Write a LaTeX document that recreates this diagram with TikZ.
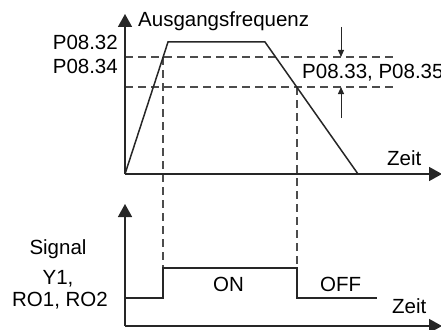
\documentclass[tikz,border=0pt]{standalone}
\usepackage{fontspec}
\setmainfont{Liberation Sans}
\usetikzlibrary{arrows.meta}
\begin{document}
\begin{tikzpicture}[x=1pt,y=-1pt,
  lbl/.style={inner sep=0pt,font=\fontsize{20.5}{24}\selectfont},
  axis/.style={line width=1.5pt,draw=black!85,-{Triangle[width=14pt,length=13pt]}},
  curve/.style={line width=1.5pt,draw=black!85},
  sig/.style={line width=2pt,draw=black!85},
  guide/.style={line width=1.3pt,draw=black!70,dash pattern=on 8pt off 5pt},
  small/.style={line width=1pt,draw=black!85,-{Triangle[width=6pt,length=7pt]}}]
\useasboundingbox (0,0) rectangle (441,329);
% coordinates
\coordinate (O1) at (125,174);
\coordinate (Y1t) at (125,14);
\coordinate (X1e) at (442,174);
\coordinate (A) at (168,42);
\coordinate (B) at (265,42);
\coordinate (C) at (358,174);
\coordinate (H1s) at (125,57);
\coordinate (H1e) at (393,57);
\coordinate (H2s) at (125,87);
\coordinate (H2e) at (393,87);
\coordinate (P1) at (163,57);
\coordinate (P2) at (297,87);
\coordinate (O2) at (125,326);
\coordinate (Y2t) at (125,204);
\coordinate (X2e) at (442,326);
\coordinate (S0) at (125,298);
\coordinate (S1) at (163,298);
\coordinate (S2) at (163,268);
\coordinate (S3) at (297,268);
\coordinate (S4) at (297,298);
\coordinate (S5) at (377,298);
\coordinate (Ta) at (341,27);
\coordinate (Tb) at (341,57);
\coordinate (Ua) at (341,118);
\coordinate (Ub) at (341,87);
% guides
\draw[guide] (H1s) -- (H1e);
\draw[guide] (H2s) -- (H2e);
\draw[guide] (P1) -- (S2);
\draw[guide] (P2) -- (S3);
% axes
\draw[axis] (O1) -- (Y1t);
\draw[axis] (O1) -- (X1e);
\draw[axis] (O2) -- (Y2t);
\draw[axis] (O2) -- (X2e);
% frequency curve
\draw[curve] (O1) -- (A) -- (B) -- (C);
% signal
\draw[sig] (S0) -- (S1) -- (S2) -- (S3) -- (S4) -- (S5);
% small arrows
\draw[small] (Ta) -- (Tb);
\draw[small] (Ua) -- (Ub);
% labels
\node[lbl,anchor=base west] (ausg) at (138,27) {Ausgangsfrequenz};
\node[lbl,anchor=base east] (p32) at (118,49) {P08.32};
\node[lbl,anchor=base east] (p34) at (118,74) {P08.34};
\node[lbl,anchor=base west] (p33) at (302,78) {P08.33, P08.35};
\node[lbl,anchor=base west] (zeit1) at (387,165) {Zeit};
\node[lbl,anchor=base west] (zeit2) at (392,313) {Zeit};
\node[lbl,anchor=base west] (on) at (213,291) {ON};
\node[lbl,anchor=base west] (off) at (320,291) {OFF};
\node[lbl,anchor=base] (signal) at (58,254) {Signal};
\node[lbl,anchor=base] (y1) at (58,284) {Y1,};
\node[lbl,anchor=base] (ro) at (60,306) {RO1, RO2};
\end{tikzpicture}
\end{document}
